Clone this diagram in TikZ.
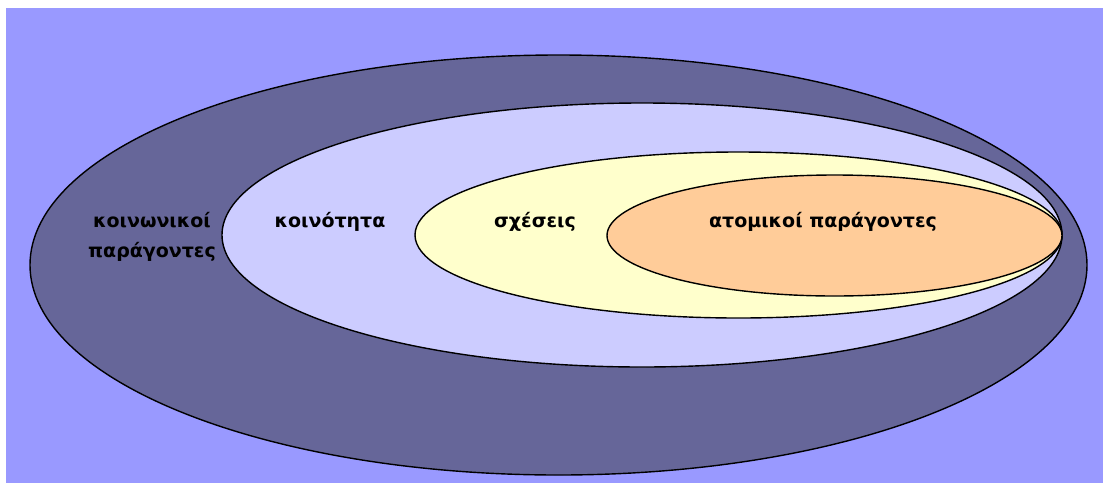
\documentclass[tikz,border=0pt]{standalone}
\usepackage{fontspec}
\setmainfont{DejaVu Sans}
\usepackage{xcolor}
\usetikzlibrary{shapes.geometric}
\definecolor{skyviolet}{HTML}{9999FF}
\definecolor{duskslate}{HTML}{666699}
\definecolor{paleviolet}{HTML}{CCCCFF}
\definecolor{paleyellow}{HTML}{FFFFCC}
\definecolor{peach}{HTML}{FFCC99}

\begin{document}
\begin{tikzpicture}[
    x=1pt, y=-1pt,
    ring/.style={ellipse, draw=black, line width=1.4pt, inner sep=0pt},
    label/.style={font=\bfseries\fontsize{19}{30}\selectfont, text=black, align=center}
]
\useasboundingbox (0,0) rectangle (1103,483);
\fill[skyviolet] (6,8) rectangle (1103,483);

% Ring 1: society
\node[ring, fill=duskslate, minimum width=1057pt, minimum height=420pt] (society) at (558.5,265) {};
% Ring 2: community
\node[ring, fill=paleviolet, minimum width=840pt, minimum height=264pt] (community) at (642,235) {};
% Ring 3: relations
\node[ring, fill=paleyellow, minimum width=647pt, minimum height=166pt] (relations) at (738.5,235) {};
% Ring 4: individual
\node[ring, fill=peach, minimum width=455pt, minimum height=121pt] (individual) at (834.5,235.5) {};

% Labels
\node[label] (societytext) at (152,237) {κοινωνικοί\\παράγοντες};
\node[label] (communitytext) at (330,222) {κοινότητα};
\node[label] (relationstext) at (535,222) {σχέσεις};
\node[label] (individualtext) at (823,222) {ατομικοί παράγοντες};

\end{tikzpicture}
\end{document}
